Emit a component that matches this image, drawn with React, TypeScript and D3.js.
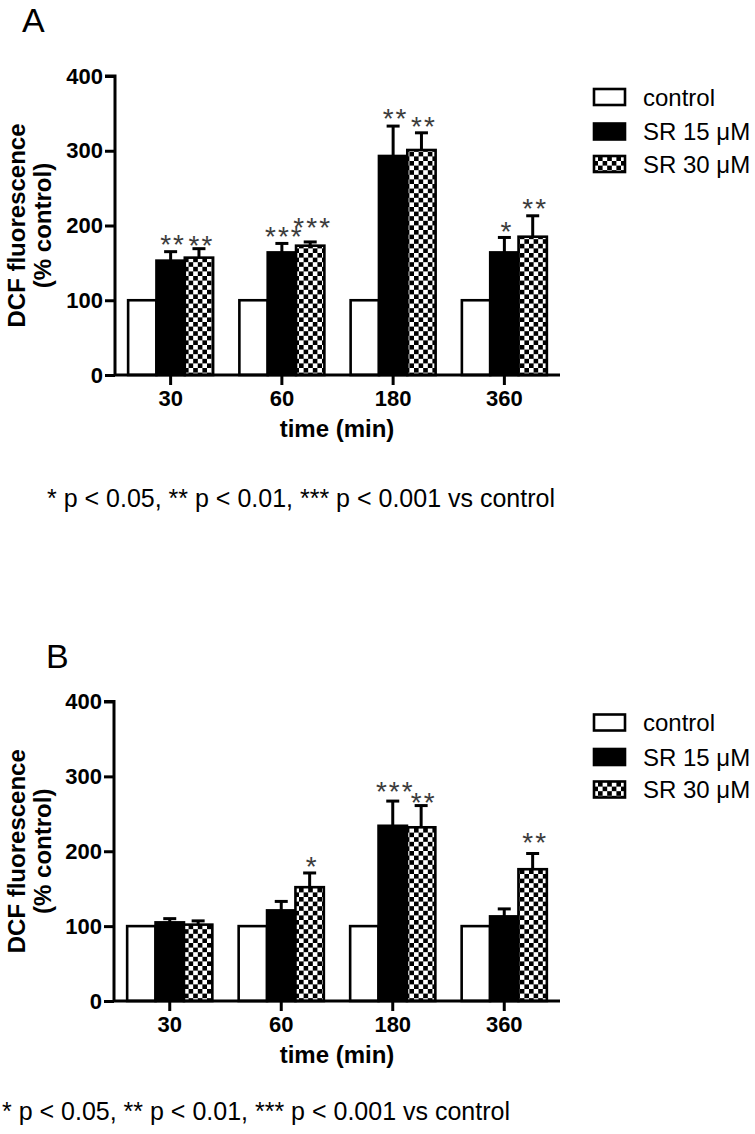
import React, { useEffect, useRef } from 'react';
import * as d3 from 'd3';

// ---------- data ----------
const timeGroups = ['30', '60', '180', '360'];
const seriesNames = ['control', 'SR 15 μM', 'SR 30 μM'];
const yTicks = [0, 100, 200, 300, 400];

const controlA = [100, 100, 100, 100];
const sr15A = [153, 164, 293, 164];
const sr15ErrA = [12, 12, 40, 20];
const sr30A = [157, 173, 301, 185];
const sr30ErrA = [12, 5, 23, 28];
const sr15StarsA = ['**', '***', '**', '*'];
const sr30StarsA = ['**', '***', '**', '**'];

const controlB = [100, 100, 100, 100];
const sr15B = [105, 121, 234, 113];
const sr15ErrB = [5, 12, 33, 10];
const sr30B = [102, 152, 232, 176];
const sr30ErrB = [5, 19, 29, 21];
const sr15StarsB = ['', '', '***', ''];
const sr30StarsB = ['', '*', '**', '**'];

const footnoteText = '* p < 0.05, ** p < 0.01, *** p < 0.001 vs control';
const xTitle = 'time (min)';
const yTitle1 = 'DCF fluorescence';
const yTitle2 = '(% control)';

// ---------- layout (styles / positions) ----------
const FONT = '"Liberation Sans", Arial, Helvetica, sans-serif';
const W = 755;
const H = 1134;

const panels = [
  {
    letter: 'A', letterX: 22, letterY: 32,
    top: 76, bottom: 375, left: 115, right: 560,
    noteX: 47, noteY: 507,
    control: controlA, sr15: sr15A, sr15Err: sr15ErrA, sr30: sr30A, sr30Err: sr30ErrA,
    stars15: sr15StarsA, stars30: sr30StarsA,
    lift15: [14, 13, 14, 12], lift30: [10, 21, 13, 14],
  },
  {
    letter: 'B', letterX: 46, letterY: 668,
    top: 701.5, bottom: 1001, left: 114, right: 560,
    noteX: 2, noteY: 1120,
    control: controlB, sr15: sr15B, sr15Err: sr15ErrB, sr30: sr30B, sr30Err: sr30ErrB,
    stars15: sr15StarsB, stars30: sr30StarsB,
    lift15: [13, 13, 16, 13], lift30: [13, 13, 10, 17],
  },
];

export default function App() {
  const ref = useRef<SVGSVGElement | null>(null);

  useEffect(() => {
    const svg = d3.select(ref.current);
    svg.selectAll('*').remove();

    const defs = svg.append('defs');
    const s = 4.6;
    const pat = defs.append('pattern')
      .attr('id', 'checker')
      .attr('patternUnits', 'userSpaceOnUse')
      .attr('width', 2 * s).attr('height', 2 * s);
    pat.append('rect').attr('width', 2 * s).attr('height', 2 * s).attr('fill', '#fff');
    pat.append('rect').attr('x', 0).attr('y', 0).attr('width', s).attr('height', s).attr('fill', '#000');
    pat.append('rect').attr('x', s).attr('y', s).attr('width', s).attr('height', s).attr('fill', '#000');

    const fills = ['#fff', '#000', 'url(#checker)'];

    panels.forEach((p) => {
      const g = svg.append('g');
      const y = d3.scaleLinear().domain([0, 400]).range([p.bottom, p.top]);
      const x0 = d3.scaleBand<string>().domain(timeGroups).range([p.left, p.right])
        .paddingInner(0.236).paddingOuter(0.118);
      const x1 = d3.scaleBand<string>().domain(seriesNames).range([0, x0.bandwidth()]).padding(0);

      // panel letter
      g.append('text').attr('x', p.letterX).attr('y', p.letterY)
        .attr('font-family', FONT).attr('font-size', 34).attr('fill', '#000').text(p.letter);

      const values = [p.control, p.sr15, p.sr30];
      const errs = [null, p.sr15Err, p.sr30Err];
      const stars = [null, p.stars15, p.stars30];
      const lifts = [null, p.lift15, p.lift30];

      // bars
      seriesNames.forEach((sn, si) => {
        timeGroups.forEach((tg, gi) => {
          const v = values[si][gi];
          const bx = (x0(tg) as number) + (x1(sn) as number);
          const bw = x1.bandwidth();
          g.append('rect')
            .attr('x', bx).attr('y', y(v))
            .attr('width', bw).attr('height', y(0) - y(v))
            .attr('fill', fills[si]).attr('stroke', '#000').attr('stroke-width', 2.6);
        });
      });

      // error bars + stars
      seriesNames.forEach((sn, si) => {
        const e = errs[si];
        if (!e) return;
        timeGroups.forEach((tg, gi) => {
          const v = values[si][gi];
          const cx = (x0(tg) as number) + (x1(sn) as number) + x1.bandwidth() / 2;
          const yt = y(v + e[gi]);
          g.append('line').attr('x1', cx).attr('x2', cx).attr('y1', y(v)).attr('y2', yt)
            .attr('stroke', '#000').attr('stroke-width', 3);
          g.append('line').attr('x1', cx - 6.5).attr('x2', cx + 6.5).attr('y1', yt).attr('y2', yt)
            .attr('stroke', '#000').attr('stroke-width', 3);
          const st = (stars[si] as string[])[gi];
          if (st) {
            const starCenter = yt - (lifts[si] as number[])[gi];
            g.append('text')
              .attr('x', cx + 2.5).attr('y', starCenter + 16)
              .attr('text-anchor', 'middle')
              .attr('font-family', FONT).attr('font-size', 28)
              .attr('letter-spacing', 2)
              .attr('fill', '#3c3c3c').text(st);
          }
        });
      });

      // y axis
      const yAxis = d3.axisLeft(y).tickValues(yTicks).tickSize(10).tickPadding(2).tickFormat(d3.format('d'));
      const ya = g.append('g').attr('transform', `translate(${p.left},0)`).call(yAxis);
      ya.select('.domain').attr('stroke', '#000').attr('stroke-width', 3)
        .attr('d', `M-10,${p.top}H0V${p.bottom}`);
      ya.selectAll('.tick line').attr('stroke', '#000').attr('stroke-width', 3);
      ya.selectAll('.tick text').attr('font-family', FONT).attr('font-size', 22)
        .attr('font-weight', 'bold').attr('fill', '#000');

      // x axis
      const xAxis = d3.axisBottom(x0).tickSize(10).tickPadding(5);
      const xa = g.append('g').attr('transform', `translate(0,${p.bottom})`).call(xAxis);
      xa.select('.domain').attr('stroke', '#000').attr('stroke-width', 3)
        .attr('d', `M${p.left},0H${p.right}`);
      xa.selectAll('.tick line').attr('stroke', '#000').attr('stroke-width', 3);
      xa.selectAll('.tick text').attr('font-family', FONT).attr('font-size', 22)
        .attr('font-weight', 'bold').attr('fill', '#000');

      // x title
      g.append('text').attr('x', 337).attr('y', p.bottom + 62)
        .attr('text-anchor', 'middle').attr('font-family', FONT).attr('font-size', 24)
        .attr('font-weight', 'bold').text(xTitle);

      // y title
      const cy = (p.top + p.bottom) / 2;
      g.append('text').attr('transform', `translate(25,${cy}) rotate(-90)`)
        .attr('text-anchor', 'middle').attr('font-family', FONT).attr('font-size', 24)
        .attr('font-weight', 'bold').text(yTitle1);
      g.append('text').attr('transform', `translate(51,${cy}) rotate(-90)`)
        .attr('text-anchor', 'middle').attr('font-family', FONT).attr('font-size', 24)
        .attr('font-weight', 'bold').text(yTitle2);

      // legend
      const rowOffsets = [21, 55.5, 88];
      seriesNames.forEach((sn, si) => {
        const rc = p.top + rowOffsets[si];
        g.append('rect').attr('x', 594).attr('y', rc - 8).attr('width', 31).attr('height', 16)
          .attr('fill', fills[si]).attr('stroke', '#000').attr('stroke-width', 2.6);
        g.append('text').attr('x', 643).attr('y', rc + 8.5)
          .attr('font-family', FONT).attr('font-size', 24).attr('fill', '#000').text(sn);
      });

      // footnote
      g.append('text').attr('x', p.noteX).attr('y', p.noteY)
        .attr('font-family', FONT).attr('font-size', 25).attr('fill', '#000').text(footnoteText);
    });
  }, []);

  return (
    <svg ref={ref} width={W} height={H}
      style={{ position: 'absolute', left: 0, top: 0, background: '#fff' }} />
  );
}
